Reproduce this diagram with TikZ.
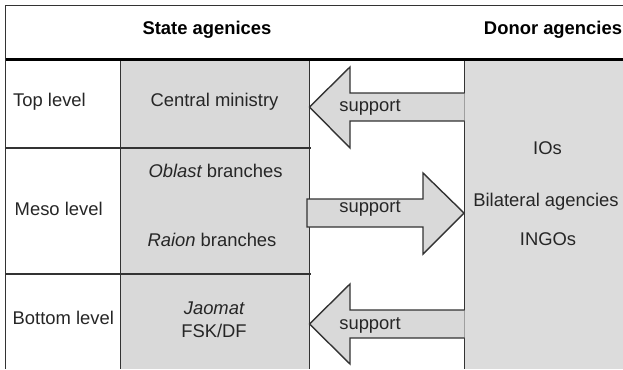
\documentclass[tikz,border=0pt]{standalone}
\usepackage{fontspec}
\setmainfont{Liberation Sans}
\definecolor{cellgray}{HTML}{D9D9D9}
\definecolor{donorgray}{HTML}{DCDCDC}
\definecolor{linegray}{HTML}{333333}
\definecolor{txt}{HTML}{262626}
\begin{document}
\begin{tikzpicture}[x=1pt,y=-1pt,
  lbl/.style={inner sep=0pt,text=txt,font=\fontsize{18.4}{22}\selectfont},
  hdr/.style={lbl,font=\fontsize{18.4}{22}\selectfont\bfseries,text=black},
  grid/.style={draw=linegray,line width=1pt},
  sep/.style={draw=linegray,line width=1.6pt},
  bigarrow/.style={draw=linegray,fill=cellgray,line width=1.4pt,line join=miter}]
\useasboundingbox (0,0) rectangle (623,369);
\fill[white] (0,0) rectangle (623,369);
% fills
\fill[cellgray] (120.5,59.5) rectangle (309,369);
\fill[donorgray] (464.5,59.5) rectangle (623,369);
% grid lines
\draw[grid] (623,6) -- (5.5,6) -- (5.5,369);
\draw[grid] (120.5,59.5) -- (120.5,369);
\draw[grid] (309,59.5) -- (309,369);
\draw[grid] (464.5,59.5) -- (464.5,369);
\draw[sep] (5.5,148) -- (310.5,148);
\draw[sep] (5.5,274) -- (310.5,274);
\draw[draw=black,line width=2pt] (5.5,59.5) -- (623,59.5);
% arrows
\draw[bigarrow] (464.5,93) -- (350,93) -- (350,67) -- (309.5,107) -- (350,148) -- (350,121) -- (464.5,121);
\draw[bigarrow] (307,199) -- (423,199) -- (423,173) -- (464,213) -- (423,254) -- (423,227) -- (307,227) -- cycle;
\draw[bigarrow] (464.5,310) -- (350,310) -- (350,284) -- (309.5,324) -- (350,364) -- (350,338) -- (464.5,338);
% headers
\node[hdr] (state) at (207,30) {State agenices};
\node[hdr] (donor) at (553,30) {Donor agencies};
% level labels
\node[lbl,anchor=west] (top) at (13,102) {Top level};
\node[lbl,anchor=west] (meso) at (14.5,209) {Meso level};
\node[lbl,anchor=west] (bottom) at (12.5,318) {Bottom level};
% state cells
\node[lbl] (central) at (214.5,102) {Central ministry};
\node[lbl] (oblast) at (215.5,171) {\itshape Oblast\upshape{} branches};
\node[lbl] (raion) at (212,240) {\itshape Raion\upshape{} branches};
\node[lbl] (jaomat) at (214,308) {\itshape Jaomat};
\node[lbl] (fsk) at (214,331) {FSK/DF};
% donor cells
\node[lbl] (ios) at (547.5,148) {IOs};
\node[lbl] (bilat) at (546,202) {Bilateral agencies};
\node[lbl] (ingos) at (548,239) {INGOs};
% arrow labels
\node[lbl] (sup1) at (370,107.5) {support};
\node[lbl] (sup2) at (370,208) {support};
\node[lbl] (sup3) at (370,325) {support};
\end{tikzpicture}
\end{document}
